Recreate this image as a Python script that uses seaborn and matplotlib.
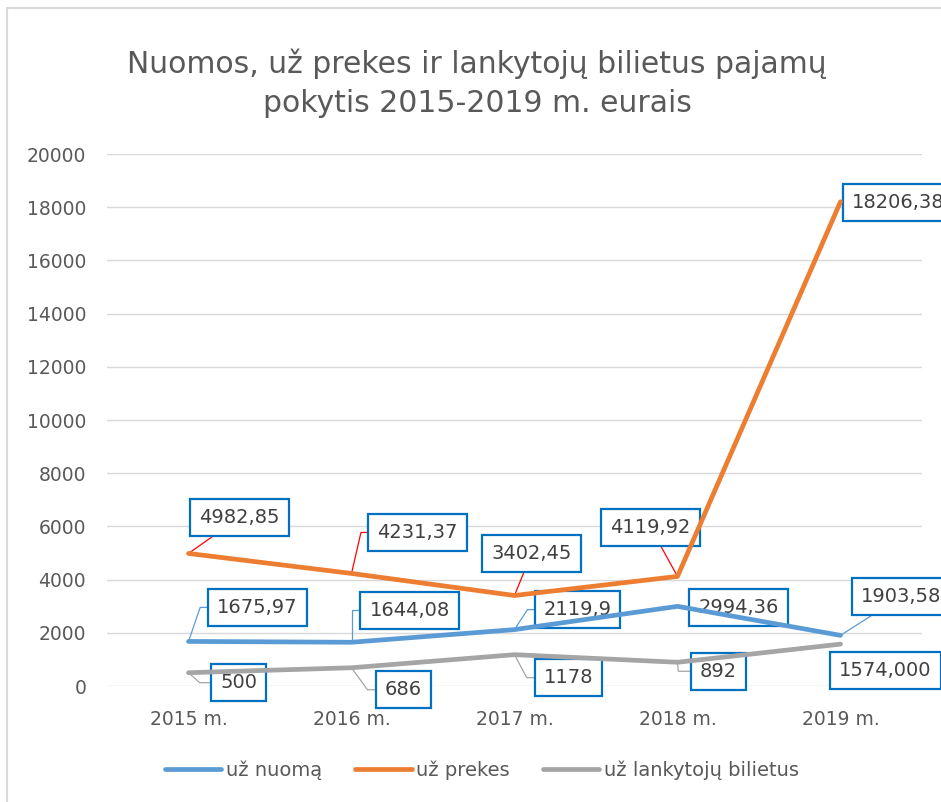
import pandas as pd
import matplotlib
matplotlib.use("Agg")
import matplotlib.pyplot as plt
from matplotlib.patches import Rectangle
import seaborn as sns

# Chart data
years = ["2015 m.", "2016 m.", "2017 m.", "2018 m.", "2019 m."]
rent = [1675.97, 1644.08, 2119.9, 2994.36, 1903.58]
goods = [4982.85, 4231.37, 3402.45, 4119.92, 18206.38]
tickets = [500, 686, 1178, 892, 1574]

rent_labels = ["1675,97", "1644,08", "2119,9", "2994,36", "1903,58"]
goods_labels = ["4982,85", "4231,37", "3402,45", "4119,92", "18206,38"]
ticket_labels = ["500", "686", "1178", "892", "1574,000"]

series_names = ["už nuomą", "už prekes", "už lankytojų bilietus"]
y_ticks = [0, 2000, 4000, 6000, 8000, 10000, 12000, 14000, 16000, 18000, 20000]

title = "Nuomos, už prekes ir lankytojų bilietus pajamų\npokytis 2015-2019 m. eurais"

colors = {"už nuomą": "#5B9BD5", "už prekes": "#ED7D31", "už lankytojų bilietus": "#A5A5A5"}
leader_colors = {"už nuomą": "#5B9BD5", "už prekes": "#FF0000", "už lankytojų bilietus": "#A5A5A5"}

# label box offsets (pixels from the point) and leader style
label_layout = {
    "už prekes": [((51, 36), "arc3"), ((66, 41), "angle,angleA=0,angleB=77,rad=0"),
                  ((17, 42), "arc3"), ((-27, 49), "arc3"), ((58, -1), None)],
    "už nuomą": [((69, 34), "angle,angleA=0,angleB=71,rad=0"), ((58, 32), "angle,angleA=0,angleB=90,rad=0"),
                 ((63, 20), "angle,angleA=0,angleB=57,rad=0"), ((61, -1), None), ((61, 39), "arc3")],
    "už lankytojų bilietus": [((50, -10), "angle,angleA=0,angleB=-42,rad=0"),
                              ((52, -22), "angle,angleA=0,angleB=-54,rad=0"),
                              ((54, -23), "angle,angleA=0,angleB=-62,rad=0"),
                              ((41, -9), "angle,angleA=0,angleB=-85,rad=0"), ((45, -26), None)],
}

df = pd.concat([
    pd.DataFrame({"year": years, "value": rent, "series": series_names[0], "label": rent_labels}),
    pd.DataFrame({"year": years, "value": goods, "series": series_names[1], "label": goods_labels}),
    pd.DataFrame({"year": years, "value": tickets, "series": series_names[2], "label": ticket_labels}),
], ignore_index=True)

sns.set_style("white")
plt.rcParams["font.family"] = ["DejaVu Sans"]
text_color = "#595959"

fig = plt.figure(figsize=(9.41, 8.02), dpi=100)
ax = fig.add_axes([107 / 941, 1 - 686 / 802, 815 / 941, 532 / 802])

sns.lineplot(data=df, x="year", y="value", hue="series", hue_order=series_names,
             palette=colors, linewidth=3.4, sort=False, ax=ax, zorder=3)

ax.set_xlim(-0.5, 4.5)
ax.set_ylim(0, 20000)
ax.set_yticks(y_ticks)
ax.set_yticklabels([str(t) for t in y_ticks])
ax.grid(axis="y", color="#D9D9D9", linewidth=1)
ax.set_axisbelow(True)
for s in ax.spines.values():
    s.set_visible(False)
ax.tick_params(axis="both", length=0, labelsize=13.5, labelcolor=text_color)
ax.tick_params(axis="y", pad=15)
ax.tick_params(axis="x", pad=17)
ax.set_xlabel("")
ax.set_ylabel("")

# data labels with leader lines (drawn under the lines, as in the original)
for name in series_names:
    sub = df[df["series"] == name].reset_index(drop=True)
    for i, row in sub.iterrows():
        offset, conn = label_layout[name][i]
        arrow = None
        if conn is not None:
            arrow = dict(arrowstyle="-", color=leader_colors[name], lw=0.9,
                         shrinkA=0, shrinkB=0, connectionstyle=conn)
        ax.annotate(row["label"], xy=(i, row["value"]), xytext=offset,
                    textcoords="offset pixels", ha="center", va="center",
                    fontsize=14, color="#404040", annotation_clip=False,
                    bbox=dict(boxstyle="square,pad=0.46", fc="white", ec="#0070C0", lw=1.6),
                    arrowprops=arrow, zorder=2)

sns.move_legend(ax, "center", bbox_to_anchor=((482 - 107) / 815, (686 - 770) / 532),
                ncol=3, frameon=False, title=None, fontsize=14, handlelength=2.9,
                columnspacing=1.7, handletextpad=0.25)
for t in ax.get_legend().get_texts():
    t.set_color(text_color)
for h in ax.get_legend().legend_handles:
    h.set_linewidth(3.4)
    h.set_solid_capstyle("round")

fig.text(477 / 941, 1 - 83 / 802, title, ha="center", va="center",
         fontsize=21.5, color=text_color, linespacing=1.42)

# chart area border
fig.add_artist(Rectangle((7 / 941, -0.1), 1.2, 1.1 - 8 / 802, transform=fig.transFigure,
                         fill=False, ec="#D9D9D9", lw=1.5))

fig.savefig("out.png", dpi=100)
